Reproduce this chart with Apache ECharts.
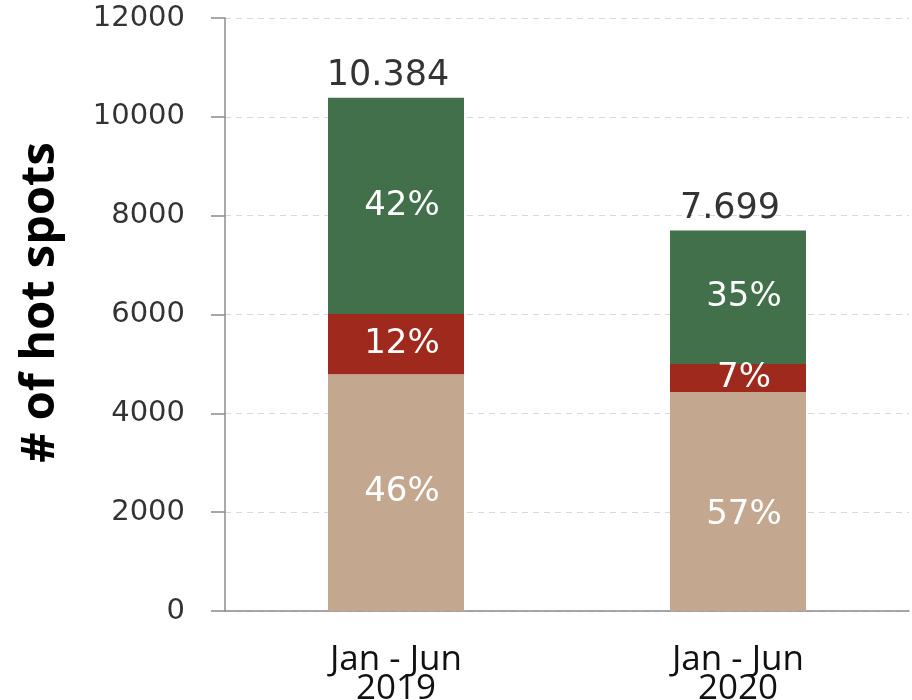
<!DOCTYPE html>
<html>
<head>
<meta charset="utf-8">
<script src="https://cdn.jsdelivr.net/npm/echarts@6/dist/echarts.min.js"></script>
<style>
  html, body { margin: 0; padding: 0; background: #fff; }
  #main { width: 912px; height: 700px; }
</style>
</head>
<body>
<div id="main"></div>
<script>
// data
var categories = ['Jan - Jun\n2019', 'Jan - Jun\n2020'];
var tanValues = [4790, 4430];
var redValues = [1220, 570];
var greenValues = [4374, 2699];
var tanPct = ['46%', '57%'];
var redPct = ['12%', '7%'];
var greenPct = ['42%', '35%'];
var totals = [10384, 7699];
var totalText = ['10.384', '7.699'];

var myChart = echarts.init(document.getElementById('main'));

function pctLabel(list) {
    return {
        show: true,
        position: 'inside',
        offset: [6, 0],
        color: '#fff',
        fontFamily: 'DejaVu Sans',
        fontSize: 34,
        formatter: function (p) { return list[p.dataIndex]; }
    };
}

// 57% label sits a bit lower than the segment middle
var tanData = tanValues.map(function (v, i) {
    return i == 1 ? { value: v, label: { offset: [6, 14] } } : v;
});

var option = {
    animation: false,
    grid: { left: 225, right: 3, top: 18, bottom: 89, containLabel: false, outerBoundsMode: 'none' },
    xAxis: {
        type: 'category',
        data: categories,
        axisLine: { lineStyle: { color: '#8c8c8c', width: 1.5 } },
        axisTick: { length: 10, lineStyle: { color: '#8c8c8c', width: 1.5 } },
        axisLabel: {
            color: '#111',
            fontFamily: 'Open Sans',
            fontSize: 35,
            lineHeight: 29,
            margin: 35
        }
    },
    yAxis: {
        type: 'value',
        min: 0,
        max: 12000,
        interval: 2000,
        name: '# of hot spots',
        nameLocation: 'middle',
        nameGap: 161,
        nameTextStyle: {
            color: '#000',
            fontFamily: 'Open Sans',
            fontWeight: 'bold',
            fontSize: 47,
            padding: [0, 0, 0, 24]
        },
        axisLine: { show: true, lineStyle: { color: '#8c8c8c', width: 1.5 } },
        axisTick: { show: true, length: 14, lineStyle: { color: '#8c8c8c', width: 1.5 } },
        axisLabel: {
            color: '#333',
            fontFamily: 'DejaVu Sans',
            fontSize: 29,
            margin: 40,
            formatter: function (v) { return String(v); }
        },
        splitLine: { lineStyle: { color: '#d9d9d9', type: [6, 5], width: 1 } }
    },
    series: [
        {
            type: 'bar', stack: 'a', barWidth: 136,
            data: tanData,
            itemStyle: { color: '#c4a78f' },
            label: pctLabel(tanPct)
        },
        {
            type: 'bar', stack: 'a',
            data: redValues,
            itemStyle: { color: '#a0291e' },
            label: pctLabel(redPct)
        },
        {
            type: 'bar', stack: 'a',
            data: greenValues,
            itemStyle: { color: '#41704b' },
            label: pctLabel(greenPct)
        },
        {
            type: 'scatter',
            data: totals,
            symbolSize: 0,
            silent: true,
            label: {
                show: true,
                position: 'top',
                distance: 4,
                offset: [-8, 0],
                color: '#000',
                fontFamily: 'DejaVu Sans',
                fontSize: 35,
                formatter: function (p) { return totalText[p.dataIndex]; }
            }
        }
    ]
};
myChart.setOption(option);
</script>
</body>
</html>
